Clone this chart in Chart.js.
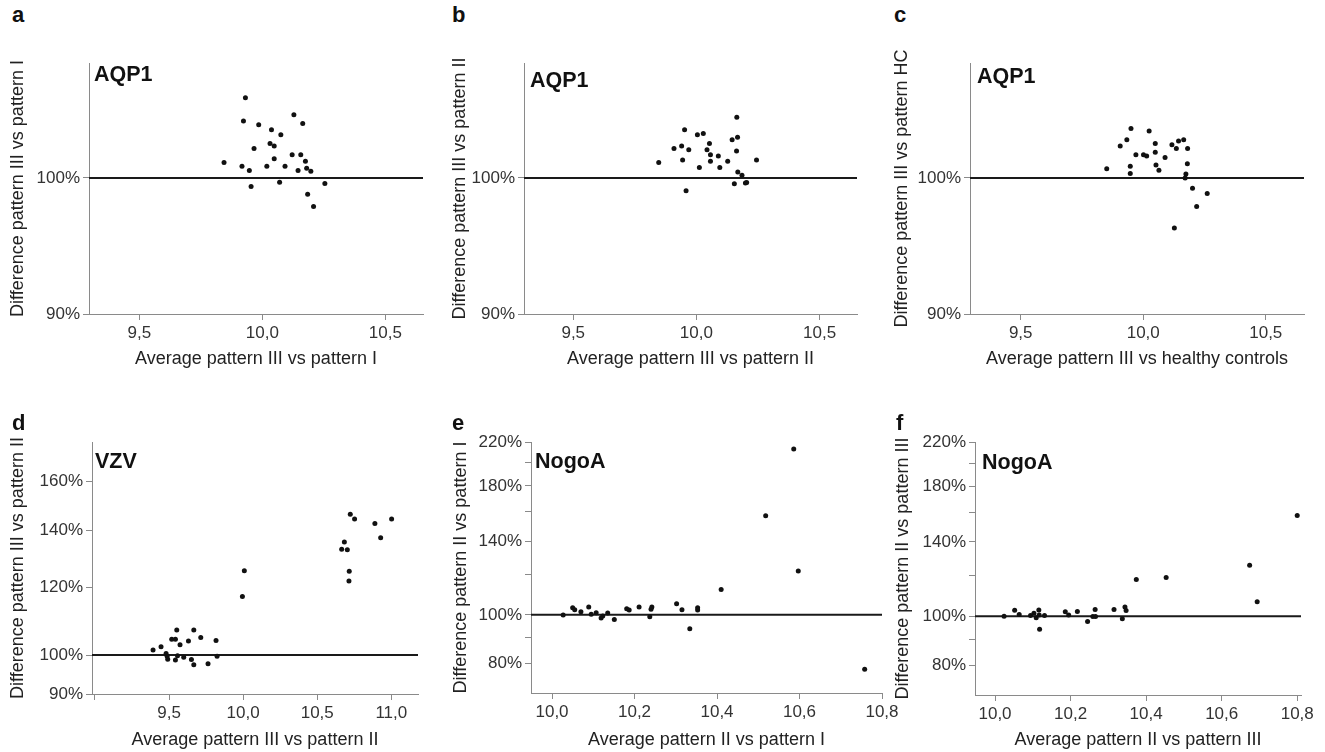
<!DOCTYPE html>
<html><head><meta charset="utf-8">
<script src="https://cdn.jsdelivr.net/npm/chart.js@4/dist/chart.umd.min.js"></script>
<style>
html,body{margin:0;padding:0;background:#fff;overflow:hidden;width:1325px;height:752px;position:relative;}
.panel{position:absolute;}
.lbl{position:absolute;font-family:"Liberation Sans",Arial,sans-serif;font-weight:bold;color:#111;line-height:1;white-space:nowrap;}
.letter{font-size:22px;}
.marker{font-size:21.5px;}
</style></head><body>
<script>
// ---------- DATA ----------
const A_AVG  = [9.931,10.128,9.923,10.164,9.985,10.037,10.075,10.031,10.048,9.966,10.121,10.156,10.048,10.175,9.844,9.917,10.018,10.092,10.180,9.947,10.145,10.197,9.954,10.070,10.254,10.184,10.208];
const A_DIFF = [106.4,105.0,104.5,104.3,104.2,103.8,103.4,102.7,102.5,102.3,101.8,101.8,101.5,101.3,101.2,100.9,100.9,100.9,100.75,100.57,100.57,100.52,99.34,99.67,99.57,98.75,97.81];

const B_AVG  = [10.164,9.952,10.004,10.028,10.167,10.145,10.053,9.940,9.909,9.969,10.043,10.163,10.057,10.089,9.944,10.057,10.127,10.244,9.847,10.012,10.095,10.168,10.185,10.154,10.199,10.204,9.958];
const B_DIFF = [104.8,103.8,103.4,103.5,103.2,103.0,102.7,102.5,102.3,102.2,102.2,102.1,101.8,101.7,101.4,101.3,101.3,101.4,101.2,100.8,100.8,100.46,100.2,99.54,99.6,99.65,99.0];

const C_AVG  = [9.950,10.024,9.933,10.165,10.144,10.049,10.117,9.906,10.135,10.181,10.049,9.970,10.001,10.014,10.089,10.180,9.947,10.052,9.851,10.064,9.947,10.174,10.171,10.201,10.261,10.218,10.127];
const C_DIFF = [103.9,103.7,103.0,103.0,102.9,102.7,102.6,102.5,102.3,102.3,102.0,101.8,101.8,101.7,101.6,101.1,100.9,101.0,100.7,100.6,100.34,100.3,100.0,99.2,98.8,97.8,96.2];

const D_AVG  = [10.723,10.752,11.002,10.889,10.928,10.683,10.665,10.703,10.716,10.714,10.008,9.995,9.552,9.667,9.518,9.543,9.714,9.631,9.817,9.574,9.446,9.392,9.480,9.487,9.557,9.491,9.599,9.543,9.651,9.824,9.667,9.763];
const D_DIFF = [146.4,144.5,144.5,142.8,137.4,135.8,133.2,133.0,125.5,122.2,125.6,117.2,107.0,107.0,104.4,104.4,104.9,103.9,104.0,102.8,102.3,101.4,100.4,99.7,99.8,98.9,99.4,98.7,98.8,99.7,97.4,97.7];

const E_AVG  = [10.586,10.518,10.597,10.410,10.758,10.334,10.027,10.050,10.055,10.070,10.089,10.095,10.107,10.119,10.123,10.135,10.151,10.181,10.187,10.211,10.237,10.240,10.242,10.302,10.315,10.353,10.353];
const E_DIFF = [213.1,157.1,122.1,112.3,78.0,93.8,99.9,103.3,102.3,101.4,103.6,100.3,100.9,98.6,99.5,100.8,97.9,102.8,102.2,103.6,99.1,102.6,103.6,105.2,102.3,103.3,102.2];

const F_AVG  = [10.80,10.674,10.453,10.374,10.694,10.118,10.024,10.052,10.064,10.094,10.103,10.109,10.116,10.117,10.131,10.186,10.195,10.218,10.245,10.259,10.266,10.265,10.315,10.337,10.344,10.347];
const F_DIFF = [157.7,126.0,119.2,118.1,106.7,94.3,100.0,102.7,100.8,100.3,101.4,99.3,102.9,100.6,100.3,102.0,100.6,102.1,97.6,99.9,99.9,103.1,103.1,98.8,104.3,102.6];

// ticks
const X_TICKS_ABC = [9.5, 10.0, 10.5];
const X_LABELS_ABC = ['9,5', '10,0', '10,5'];
const X_TICKS_D = [9.0, 9.5, 10.0, 10.5, 11.0];
const X_LABELS_D = ['', '9,5', '10,0', '10,5', '11,0'];
const X_TICKS_EF = [10.0, 10.2, 10.4, 10.6, 10.8];
const X_LABELS_EF = ['10,0', '10,2', '10,4', '10,6', '10,8'];

const Y_TICKS_ABC = [90, 100];
const Y_LABELS_ABC = ['90%', '100%'];
const Y_TICKS_D = [90, 100, 120, 140, 160];
const Y_LABELS_D = ['90%', '100%', '120%', '140%', '160%'];
const Y_TICKS_EF = [80, 90, 100, 120, 140, 160, 180, 200, 220];
const Y_LABELS_EF = ['80%', '', '100%', '', '140%', '', '180%', '', '220%'];

const REF_LEVEL = 100;

const PANEL_LETTERS = ['a', 'b', 'c', 'd', 'e', 'f'];
const MARKERS = ['AQP1', 'AQP1', 'AQP1', 'VZV', 'NogoA', 'NogoA'];
const X_TITLES = ['Average pattern III vs pattern I', 'Average pattern III vs pattern II', 'Average pattern III vs healthy controls',
                  'Average pattern III vs pattern II', 'Average pattern II vs pattern I', 'Average pattern II vs pattern III'];
const Y_TITLES = ['Difference pattern III vs pattern I', 'Difference pattern III vs pattern II', 'Difference pattern III vs pattern HC',
                  'Difference pattern III vs pattern II', 'Difference pattern II vs pattern I', 'Difference pattern II vs pattern III'];

// ---------- LAYOUT / STYLE ----------
const FONT = '"Liberation Sans", Arial, sans-serif';
Chart.defaults.font.family = FONT;

const panels = [
  {avg:A_AVG, diff:A_DIFF, xr:[9.295,10.653], yr:[90,109.3], xt:X_TICKS_ABC, xl:X_LABELS_ABC, yt:Y_TICKS_ABC, yl:Y_LABELS_ABC,
   box:{l:3,t:40,w:440,h:334}, wY:86, hX:60, pt:23, pr:20, letter:[12,3.5], marker:[94,64.2]},
  {avg:B_AVG, diff:B_DIFF, xr:[9.30,10.652], yr:[90,109.3], xt:X_TICKS_ABC, xl:X_LABELS_ABC, yt:Y_TICKS_ABC, yl:Y_LABELS_ABC,
   box:{l:445,t:40,w:432,h:334}, wY:79, hX:60, pt:23, pr:20, letter:[452,3.5], marker:[530,70]},
  {avg:C_AVG, diff:C_DIFF, xr:[9.293,10.656], yr:[90,109.3], xt:X_TICKS_ABC, xl:X_LABELS_ABC, yt:Y_TICKS_ABC, yl:Y_LABELS_ABC,
   box:{l:887,t:40,w:435,h:334}, wY:83, hX:60, pt:23, pr:18, letter:[894,3.5], marker:[977,65.5]},
  {avg:D_AVG, diff:D_DIFF, xr:[8.98,11.18], yr:[90,178], xt:X_TICKS_D, xl:X_LABELS_D, yt:Y_TICKS_D, yl:Y_LABELS_D,
   box:{l:3,t:410,w:435,h:345}, wY:89, hX:61, pt:32, pr:20, letter:[12,411.5], marker:[95,450.5]},
  {avg:E_AVG, diff:E_DIFF, xr:[9.949,10.8], yr:[70,220], xt:X_TICKS_EF, xl:X_LABELS_EF, yt:Y_TICKS_EF, yl:Y_LABELS_EF,
   box:{l:446,t:410,w:456,h:345}, wY:85, hX:62, pt:32, pr:20, letter:[452,411.5], marker:[535,450.5]},
  {avg:F_AVG, diff:F_DIFF, xr:[9.947,10.81], yr:[70,220], xt:X_TICKS_EF, xl:X_LABELS_EF, yt:Y_TICKS_EF, yl:Y_LABELS_EF,
   box:{l:888,t:410,w:435,h:345}, wY:87, hX:60, pt:32, pr:22, letter:[896,411.5], marker:[982,452]}
];

const refLine = {
  id: 'refLine',
  beforeDatasetsDraw(chart) {
    const {ctx, chartArea: a, scales: {y}} = chart;
    const py = y.getPixelForValue(REF_LEVEL);
    ctx.save();
    ctx.strokeStyle = '#1a1a1a';
    ctx.lineWidth = 2;
    ctx.beginPath();
    ctx.moveTo(a.left, py);
    ctx.lineTo(a.right, py);
    ctx.stroke();
    ctx.restore();
  }
};

const AXIS_COL = '#8a8a8a';

panels.forEach((p, i) => {
  const div = document.createElement('div');
  div.className = 'panel';
  div.style.left = p.box.l + 'px';
  div.style.top = p.box.t + 'px';
  div.style.width = p.box.w + 'px';
  div.style.height = p.box.h + 'px';
  const cv = document.createElement('canvas');
  cv.width = p.box.w; cv.height = p.box.h;
  cv.style.width = p.box.w + 'px'; cv.style.height = p.box.h + 'px';
  div.appendChild(cv);
  document.body.appendChild(div);

  const lt = document.createElement('div');
  lt.className = 'lbl letter';
  lt.textContent = PANEL_LETTERS[i];
  lt.style.left = p.letter[0] + 'px'; lt.style.top = p.letter[1] + 'px';
  document.body.appendChild(lt);

  const mk = document.createElement('div');
  mk.className = 'lbl marker';
  mk.textContent = MARKERS[i];
  mk.style.left = p.marker[0] + 'px'; mk.style.top = p.marker[1] + 'px';
  document.body.appendChild(mk);

  new Chart(cv, {
    type: 'scatter',
    data: {
      datasets: [{
        data: p.avg.map((x, k) => ({x: x, y: p.diff[k]})),
        pointRadius: 2.5,
        pointBackgroundColor: '#111',
        pointBorderWidth: 0,
        showLine: false,
        clip: false
      }]
    },
    options: {
      responsive: false,
      animation: false,
      events: [],
      devicePixelRatio: 1,
      layout: {padding: {left: 0, top: p.pt, right: p.pr, bottom: 0}},
      plugins: {legend: {display: false}, tooltip: {enabled: false}},
      scales: {
        x: {
          type: 'linear',
          min: p.xr[0], max: p.xr[1],
          afterBuildTicks: s => { s.ticks = p.xt.map(v => ({value: v})); },
          afterFit: s => { s.height = p.hX; },
          grid: {drawOnChartArea: false, drawTicks: true, tickLength: 6, tickColor: AXIS_COL},
          border: {color: AXIS_COL, width: 1},
          ticks: {font: {size: 17}, color: '#333', padding: 3, maxRotation: 0, autoSkip: false,
                  callback: (v, idx) => p.xl[idx]},
          title: {display: true, text: X_TITLES[i], font: {size: 18}, color: '#222', padding: {top: 4, bottom: 4}}
        },
        y: {
          type: 'logarithmic',
          min: p.yr[0], max: p.yr[1],
          afterBuildTicks: s => { s.ticks = p.yt.map(v => ({value: v})); },
          afterFit: s => { s.width = p.wY; },
          grid: {drawOnChartArea: false, drawTicks: true, tickLength: 6, tickColor: AXIS_COL},
          border: {color: AXIS_COL, width: 1},
          ticks: {font: {size: 17}, color: '#333', padding: 3, autoSkip: false,
                  callback: (v, idx) => p.yl[idx]},
          title: {display: true, text: Y_TITLES[i], font: {size: 18}, color: '#222', padding: {top: 4, bottom: 4}}
        }
      }
    },
    plugins: [refLine]
  });
});
</script>
</body></html>
